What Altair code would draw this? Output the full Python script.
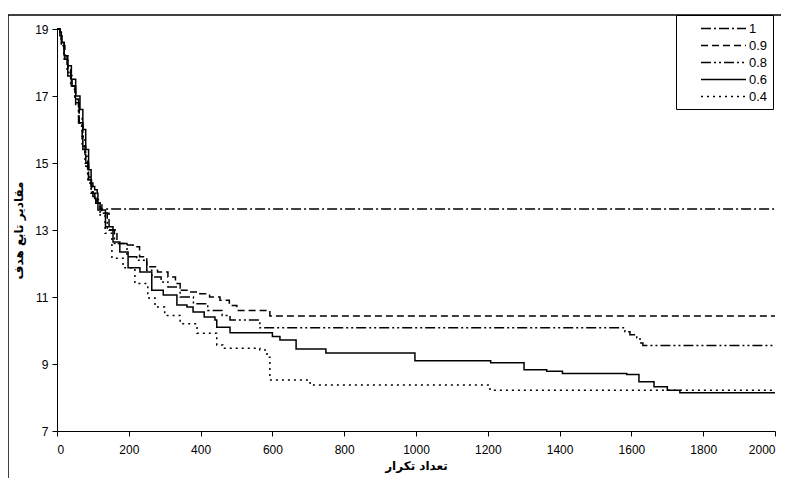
import altair as alt
import pandas as pd

names = ["1", "0.9", "0.8", "0.6", "0.4"]

x_1 = [0, 8, 12, 20, 28, 38, 50, 60, 70, 78, 86, 95, 105, 120, 2000]
y_1 = [19, 18.9, 18.6, 18.2, 17.8, 17.3, 16.9, 16.2, 15.5, 15.0, 14.5, 14.1, 13.9, 13.63, 13.63]

x_09 = [0, 8, 14, 22, 30, 42, 52, 62, 72, 80, 88, 100, 112, 125, 145, 167, 190, 212, 230, 250,
        280, 309, 330, 343, 370, 398, 425, 454, 480, 501, 540, 593, 2000]
y_09 = [19, 18.9, 18.5, 18.1, 17.6, 17.2, 16.7, 16.1, 15.4, 14.9, 14.4, 14.0, 13.8, 13.5, 13.0, 12.6,
        12.55, 12.5, 12.2, 11.9, 11.75, 11.6, 11.4, 11.2, 11.15, 11.1, 11.0, 10.9, 10.75, 10.6, 10.6,
        10.43, 10.43]

x_08 = [0, 8, 12, 20, 30, 40, 52, 62, 72, 80, 88, 96, 108, 120, 140, 160, 195, 222, 250, 264, 290,
        309, 343, 380, 420, 460, 482, 537, 565, 1554, 1582, 1596, 1615, 1624, 1632, 2000]
y_08 = [19, 18.9, 18.6, 18.2, 17.7, 17.3, 16.8, 16.2, 15.5, 15.0, 14.5, 14.1, 13.8, 13.5, 13.0, 12.6,
        12.2, 12.1, 11.8, 11.6, 11.45, 11.3, 11.0, 10.8, 10.6, 10.45, 10.31, 10.31, 10.08, 10.08, 9.96,
        9.87, 9.78, 9.63, 9.55, 9.55]

x_06 = [0, 8, 12, 20, 30, 40, 52, 64, 72, 80, 88, 95, 105, 112, 114, 135, 156, 175, 198, 231, 264,
        296, 334, 362, 379, 410, 440, 445, 482, 600, 621, 666, 749, 997, 1208, 1301, 1364, 1408, 1587,
        1621, 1663, 1700, 1735, 2000]
y_06 = [19, 18.8, 18.6, 18.2, 17.9, 17.5, 17.0, 16.6, 16.0, 15.4, 14.8, 14.3, 14.2, 14.1, 13.6, 13.1,
        12.64, 12.34, 11.87, 11.75, 11.2, 11.06, 10.76, 10.7, 10.55, 10.4, 10.31, 10.1, 9.93, 9.82, 9.72,
        9.45, 9.33, 9.10, 9.04, 8.83, 8.78, 8.72, 8.69, 8.47, 8.32, 8.22, 8.14, 8.14]

x_04 = [0, 8, 12, 20, 30, 40, 50, 60, 70, 78, 85, 92, 100, 110, 120, 134, 153, 184, 217, 253, 273,
        300, 343, 390, 445, 462, 565, 585, 593, 705, 1206, 2000]
y_04 = [19, 18.9, 18.5, 18.1, 17.7, 17.3, 16.9, 16.4, 15.8, 15.2, 14.7, 14.3, 14.0, 13.8, 13.45, 12.9,
        12.16, 11.87, 11.4, 10.97, 10.7, 10.45, 10.2, 9.92, 9.57, 9.47, 9.42, 9.2, 8.52, 8.37, 8.22, 8.22]

x_ticks = list(range(0, 2001, 200))
y_ticks = [7, 9, 11, 13, 15, 17, 19]

rows = []
for name, xs, ys in zip(names, [x_1, x_09, x_08, x_06, x_04], [y_1, y_09, y_08, y_06, y_04]):
    for i, (a, b) in enumerate(zip(xs, ys)):
        rows.append({"series": name, "iter": a, "val": b, "k": i})
df = pd.DataFrame(rows)

dashes = [[10, 3, 2, 3], [7, 4], [10, 3, 2, 3, 2, 3], [1, 0], [2, 4]]

NB = "\u00a0" * 14

lines = alt.Chart(df).mark_line(interpolate="step-after", strokeWidth=1.5, color="black").encode(
    x=alt.X("iter:Q", scale=alt.Scale(domain=[0, 2000], nice=False),
            axis=alt.Axis(values=x_ticks, title="تعداد تکرار", grid=False, format="d")),
    y=alt.Y("val:Q", scale=alt.Scale(domain=[7, 19], nice=False, zero=False),
            axis=alt.Axis(values=y_ticks, title="مقادیر تابع هدف", grid=False)),
    strokeDash=alt.StrokeDash("series:N", sort=names,
                              scale=alt.Scale(domain=names, range=dashes),
                              legend=alt.Legend(orient="none", legendX=619, legendY=-14, title=None,
                                                symbolType="M-3,0H3", symbolSize=225,
                                                symbolStrokeWidth=1.5, symbolStrokeColor="black",
                                                symbolFillColor="transparent",
                                                labelFontSize=13, labelFont="Liberation Sans",
                                                labelColor="black", strokeColor="black",
                                                fillColor="white", padding=5, symbolOffset=34,
                                                rowPadding=1, labelOffset=17,
                                                labelExpr="datum.label + '" + NB + "'")),
    order="k:Q",
)

one = pd.DataFrame({"a": [0]})
border_left = alt.Chart(one).mark_rule(color="black", strokeWidth=1.5).encode(
    x=alt.value(-49), y=alt.value(-14), y2=alt.value(470))
border_top = alt.Chart(one).mark_rule(color="black", strokeWidth=1.5).encode(
    x=alt.value(-49), x2=alt.value(740), y=alt.value(-14))

chart = alt.layer(lines, border_left, border_top).properties(
    width=718, height=402,
    padding={"left": 49, "top": 21, "right": 6, "bottom": 47},
    autosize="none",
).configure_view(stroke=None).configure_axis(
    domainColor="black", tickColor="black", tickSize=5, labelColor="black",
    labelFont="Liberation Sans", labelFontSize=12, titleFont="DejaVu Sans",
    titleFontSize=12, titleFontWeight="bold", titleColor="black", labelPadding=4,
).configure_axisY(titlePadding=9).configure_axisX(titlePadding=5, labelPadding=8)

chart.save("out.html", embed_options={"renderer": "svg", "actions": False})
